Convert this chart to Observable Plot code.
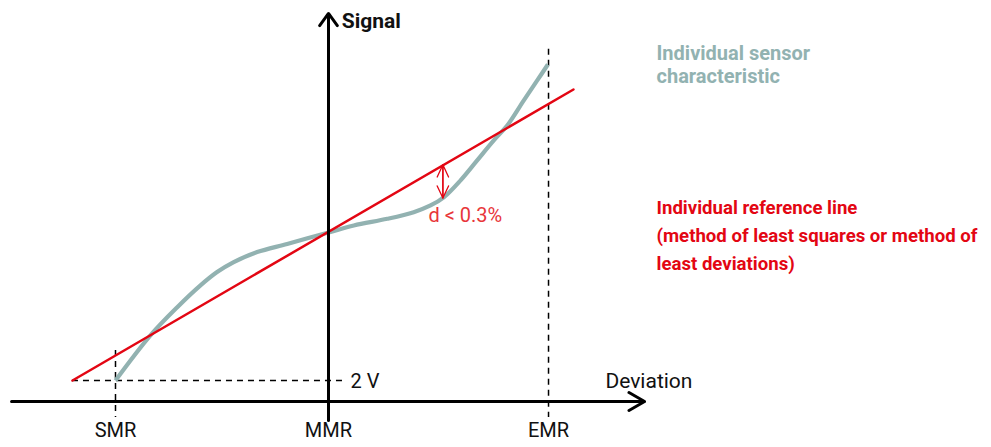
<!DOCTYPE html>
<html>
<head>
<meta charset="utf-8">
<script src="https://cdn.jsdelivr.net/npm/d3@7"></script>
<script src="https://cdn.jsdelivr.net/npm/@observablehq/plot@0.6"></script>
<style>
  html, body { margin: 0; padding: 0; background: #fff; }
  svg { display: block; }
</style>
</head>
<body>
<div id="chart"></div>
<script>
// Reference positions on the deviation axis (arbitrary units)
const markLabels = ["SMR", "MMR", "EMR"];
const markX = [-1, 0, 1.033];

// Individual sensor characteristic
const curveX = [-1.000, -0.836, -0.710, -0.601, -0.523, -0.445, -0.335, -0.194, 0, 0.119, 0.276, 0.400, 0.479, 0.541, 0.620, 0.698, 0.776, 0.839, 0.917, 0.980, 1.030];
const curveY = [2.00, 3.22, 3.98, 4.57, 4.93, 5.20, 5.47, 5.69, 6.00, 6.19, 6.37, 6.55, 6.73, 6.95, 7.41, 7.95, 8.49, 8.89, 9.57, 10.11, 10.54];

// Individual reference line (end points)
const refX = [-1.202, 1.150];
const refY = [2.0, 9.865];

// Signal level of the "2 V" marker and the deviation d
const levelY = 2;
const levelLabel = "2 V";
const dX = 0.537;
const dTop = 7.83;
const dBottom = 6.93;
const dLabel = "d < 0.3%";

// Axis extents
const axisY = 1.432;            // height of the deviation axis
const axisXRange = [-1.488, 1.484];
const axisYRange = [0.92, 11.92];

const grey = "#92b2b1";
const red = "#e30613";
const font = 'Roboto, "Liberation Sans", sans-serif';

const curve = curveX.map((x, i) => ({x, y: curveY[i]}));
const ref = refX.map((x, i) => ({x, y: refY[i]}));
const marks = markLabels.map((label, i) => ({label, x: markX[i]}));

const greyLegend = ["Individual sensor", "characteristic"];
const greyLegendY = [10.84, 10.21];
const redLegend = ["Individual reference line", "(method of least squares or method of", "least deviations)"];
const redLegendY = [6.66, 5.90, 5.135];
const legendX = 1.540;

const dash = {stroke: "#000", strokeWidth: 1.5, strokeDasharray: "6,5"};

const chart = Plot.plot({
  width: 991,
  height: 447,
  margin: 0,
  style: {fontFamily: font, background: "#fff"},
  x: {domain: [-1.5399, 3.1127], range: [0, 991], axis: null},
  y: {domain: [0.1892, 12.270], range: [447, 0], axis: null},
  marks: [
    // dashed guides
    Plot.ruleY([levelY], {x1: refX[0], x2: 0.08, ...dash}),
    Plot.ruleX([markX[0]], {y1: 2.81, y2: 1.0, ...dash}),
    Plot.ruleX([markX[2]], {y1: 10.95, y2: 1.0, ...dash}),
    // sensor characteristic
    Plot.line(curve, {x: "x", y: "y", curve: "catmull-rom", stroke: grey, strokeWidth: 4.2, strokeLinecap: "butt"}),
    // reference line
    Plot.line(ref, {x: "x", y: "y", stroke: red, strokeWidth: 2.5}),
    // axes
    Plot.arrow([0], {x1: axisXRange[0], x2: axisXRange[1], y1: axisY, y2: axisY, stroke: "#000", strokeWidth: 3, headLength: 9, headAngle: 60}),
    Plot.arrow([0], {x1: 0, x2: 0, y1: axisYRange[0], y2: axisYRange[1], stroke: "#000", strokeWidth: 3, headLength: 7.5, headAngle: 72}),
    // deviation d (double-headed arrow)
    Plot.arrow([0], {x1: dX, x2: dX, y1: dBottom - 2, y2: dTop, insetStart: 74, stroke: red, strokeWidth: 1.3, headLength: 15.5, headAngle: 50}),
    Plot.arrow([0], {x1: dX, x2: dX, y1: dTop + 2, y2: dBottom, insetStart: 74, stroke: red, strokeWidth: 1.3, headLength: 15.5, headAngle: 50}),
    // labels
    Plot.text(marks, {x: "x", y: 0.65, text: "label", fontSize: 20, fill: "#111"}),
    Plot.text([levelLabel], {x: 0.103, y: 1.97, text: d => d, textAnchor: "start", fontSize: 20, fill: "#111"}),
    Plot.text(["Deviation"], {x: 1.300, y: 1.99, text: d => d, textAnchor: "start", fontSize: 21, fill: "#111"}),
    Plot.text(["Signal"], {x: 0.062, y: 11.70, text: d => d, textAnchor: "start", fontSize: 21, fontWeight: "bold", fill: "#111"}),
    Plot.text([dLabel], {x: 0.469, y: 6.46, text: d => d, textAnchor: "start", fontSize: 20, fill: "#e8363a"}),
    Plot.text(greyLegend, {x: legendX, y: (d, i) => greyLegendY[i], text: d => d, textAnchor: "start", fontSize: 20, fontWeight: "bold", fill: grey}),
    Plot.text(redLegend, {x: legendX, y: (d, i) => redLegendY[i], text: d => d, textAnchor: "start", fontSize: 18.6, fontWeight: "bold", fill: red})
  ]
});
document.getElementById("chart").appendChild(chart);
</script>
</body>
</html>
